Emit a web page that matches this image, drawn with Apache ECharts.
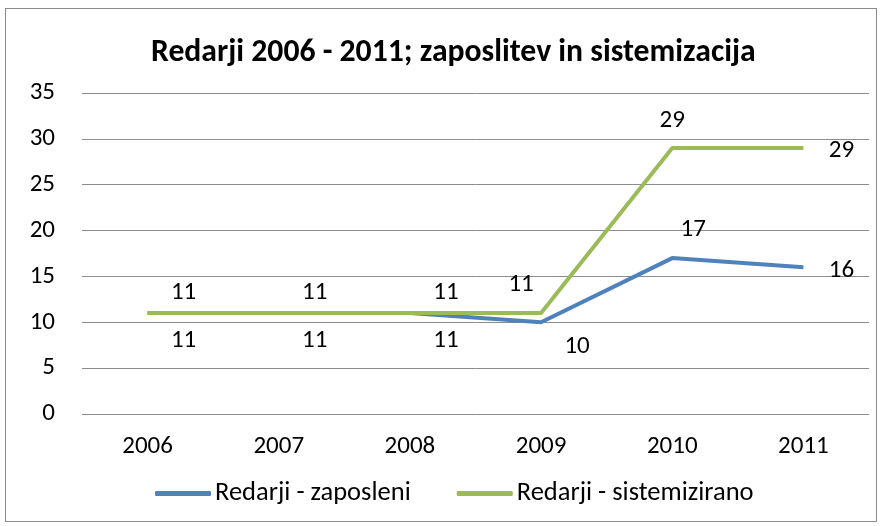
<!DOCTYPE html>
<html>
<head>
<meta charset="utf-8">
<script src="https://cdn.jsdelivr.net/npm/echarts@6/dist/echarts.min.js"></script>
<style>
  html, body { margin: 0; padding: 0; background: #fff; }
  #chart1 { width: 882px; height: 526px; }
  #frame { position: absolute; left: 5px; top: 8px; width: 872px; height: 514px; border: 1px solid #8c8c8c; box-sizing: border-box; pointer-events: none; }
</style>
</head>
<body>
<div id="chart1"></div>
<div id="frame"></div>
<script>
const years = ['2006', '2007', '2008', '2009', '2010', '2011']
const zaposleni = [11, 11, 11, 10, 17, 16]
const sistemizirano = [11, 11, 11, 11, 29, 29]
const yTicks = [0, 5, 10, 15, 20, 25, 30, 35]

// label offsets, Excel style placement
const offZaposleni = [[36, 28], [36, 28], [36, 28], [36, 24], [21, -28], [38, 3]]
const offSistem = [[36, -20], [36, -20], [36, -20], [-20, -28], [0, -27], [38, 3]]

const FONT = 'Carlito, "Liberation Sans Narrow", "Open Sans", sans-serif'

const withLabels = (values, offsets) => values.map((v, i) => ({
  value: v,
  label: { show: true, position: 'inside', offset: offsets[i] }
}))

const chart1 = echarts.init(document.getElementById('chart1'))
chart1.setOption({
  animation: false,
  textStyle: { fontFamily: FONT },
  title: {
    text: 'Redarji 2006 - 2011; zaposlitev in sistemizacija',
    left: 146,
    top: 32,
    textStyle: { fontFamily: FONT, fontSize: 31.7, fontWeight: 'bold', color: '#000' }
  },
  legend: {
    bottom: 14,
    left: 150,
    itemWidth: 56,
    itemHeight: 5,
    itemGap: 46,
    icon: 'roundRect',
    textStyle: { fontFamily: FONT, fontSize: 26.5, color: '#000', padding: [0, 0, 0, -1] },
    data: ['Redarji - zaposleni', 'Redarji - sistemizirano']
  },
  grid: { left: 82, right: 13, top: 93, bottom: 112 },
  xAxis: {
    type: 'category',
    data: years,
    boundaryGap: true,
    axisLine: { show: false },
    axisTick: { show: false },
    axisLabel: { fontSize: 25, color: '#000', margin: 20, fontFamily: FONT }
  },
  yAxis: {
    type: 'value',
    min: yTicks[0],
    max: yTicks[yTicks.length - 1],
    interval: 5,
    axisLine: { show: false },
    axisTick: { show: false },
    axisLabel: { fontSize: 25, color: '#000', margin: 27, fontFamily: FONT },
    splitLine: { lineStyle: { color: '#8c8c8c', width: 1 } }
  },
  series: [
    {
      name: 'Redarji - zaposleni',
      type: 'line',
      data: withLabels(zaposleni, offZaposleni),
      symbol: 'circle',
      symbolSize: 0,
      color: '#4f81bd',
      lineStyle: { width: 4, color: '#4f81bd' },
      label: { fontSize: 25, color: '#000', fontFamily: FONT }
    },
    {
      name: 'Redarji - sistemizirano',
      type: 'line',
      data: withLabels(sistemizirano, offSistem),
      symbol: 'circle',
      symbolSize: 0,
      color: '#9bbb59',
      lineStyle: { width: 4, color: '#9bbb59' },
      label: { fontSize: 25, color: '#000', fontFamily: FONT }
    }
  ]
})
</script>
</body>
</html>
